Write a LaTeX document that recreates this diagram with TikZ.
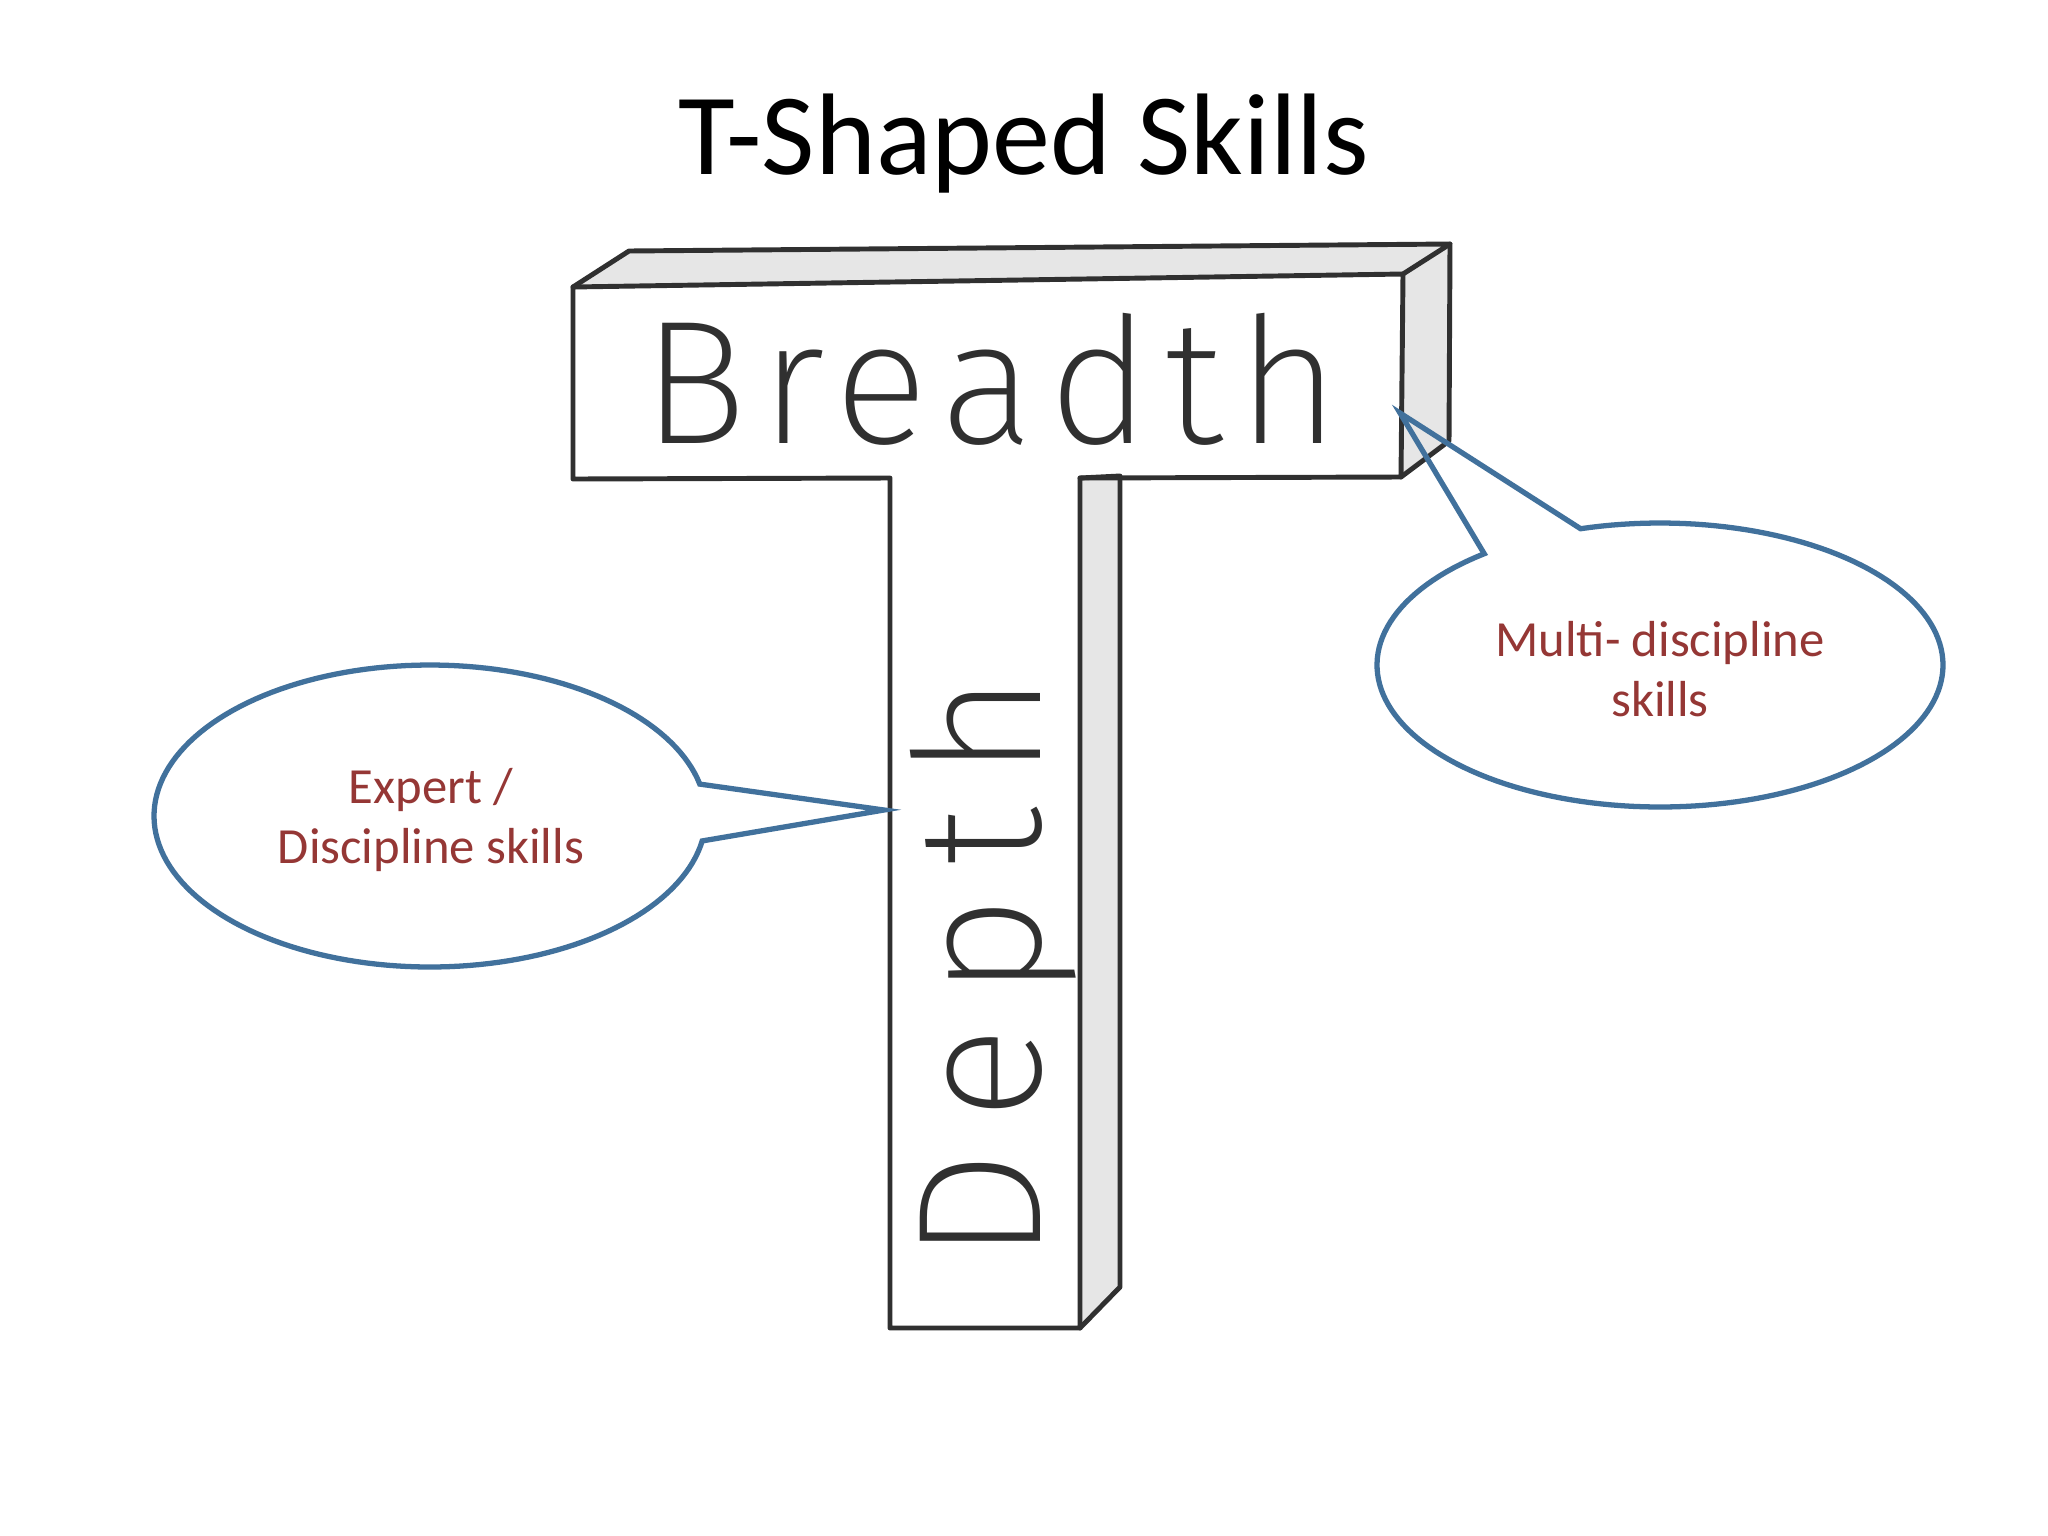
\documentclass[tikz,border=0pt]{standalone}
\usepackage{fontspec}
\setmainfont{Carlito}
\IfFontExistsTF{Fira Sans ExtraLight}{%
  \newfontfamily\handb{Fira Sans ExtraLight}[LetterSpace=8]%
  \newfontfamily\handd{Fira Sans ExtraLight}[LetterSpace=17]%
}{%
  \newfontfamily\handb{Fira Sans Light}[LetterSpace=8]%
  \newfontfamily\handd{Fira Sans Light}[LetterSpace=17]%
}
\definecolor{calloutblue}{RGB}{65,113,156}
\definecolor{calloutred}{RGB}{149,55,53}
\definecolor{pencil}{RGB}{48,48,48}
\definecolor{shade}{RGB}{230,230,230}
\begin{document}
\begin{tikzpicture}[x=0.01cm,y=-0.01cm,
  edge/.style={draw=pencil, line width=1.4pt, line join=round, line cap=round},
  face/.style={fill=shade},
  bubble/.style={draw=calloutblue, line width=1.5pt, line join=miter},
  bubbletext/.style={text=calloutred, font=\fontsize{14.4}{17.2}\selectfont, align=center, inner sep=0pt},
  handtext/.style={text=pencil, inner sep=0pt}
]
\useasboundingbox (0,0) rectangle (2048,1536);
\fill[white] (0,0) rectangle (2048,1536);

% title
\node[anchor=base, font=\fontsize{33}{40}\selectfont, inner sep=0pt] (title) at (1024,174) {T-Shaped Skills};

% T shape coordinates
\coordinate (A)  at (573,287);
\coordinate (A2) at (629,251);
\coordinate (B2) at (1450,244);
\coordinate (B)  at (1403,274);
\coordinate (C)  at (1401,477);
\coordinate (C2) at (1449,441);
\coordinate (D)  at (1080,478);
\coordinate (D2) at (1120,476);
\coordinate (E2) at (1120,1287);
\coordinate (E)  at (1080,1328);
\coordinate (F)  at (890,1328);
\coordinate (G)  at (890,478);
\coordinate (H)  at (573,479);

% shaded faces
\fill[face] (A) -- (A2) -- (B2) -- (B) -- cycle;
\fill[face] (B) -- (B2) -- (C2) -- (C) -- cycle;
\fill[face] (D) -- (D2) -- (E2) -- (E) -- cycle;

% edges
\draw[edge] (A) -- (B) -- (C) -- (D) -- (E) -- (F) -- (G) -- (H) -- cycle;
\draw[edge] (A) -- (A2) -- (B2) -- (B);
\draw[edge] (B2) -- (C2) -- (C);
\draw[edge] (D) -- (D2) -- (E2) -- (E);

% handwritten words
\node[handtext, anchor=base, font=\handb\fontsize{50}{56}\selectfont] (breadth) at (991,443) {Breadth};
\node[handtext, anchor=base, rotate=90, font=\handd\fontsize{50}{56}\selectfont] (depth) at (1040,968) {Depth};

% right callout
\coordinate (rtip) at (1400,413);
\draw[bubble] plot[domain=253.7:591.6, samples=160] ({1660+283*cos(\x)},{665+142*sin(\x)}) -- (rtip) -- cycle;
\node[bubbletext] (multi) at (1660,669) {Multi- discipline\\skills};

% left callout
\coordinate (ltip) at (884,810);
\draw[bubble] plot[domain=9.5:347.8, samples=160] ({430+276*cos(\x)},{816+151*sin(\x)}) -- (ltip) -- cycle;
\node[bubbletext] (expert) at (431,820) {Expert /\\Discipline skills};
\end{tikzpicture}
\end{document}
